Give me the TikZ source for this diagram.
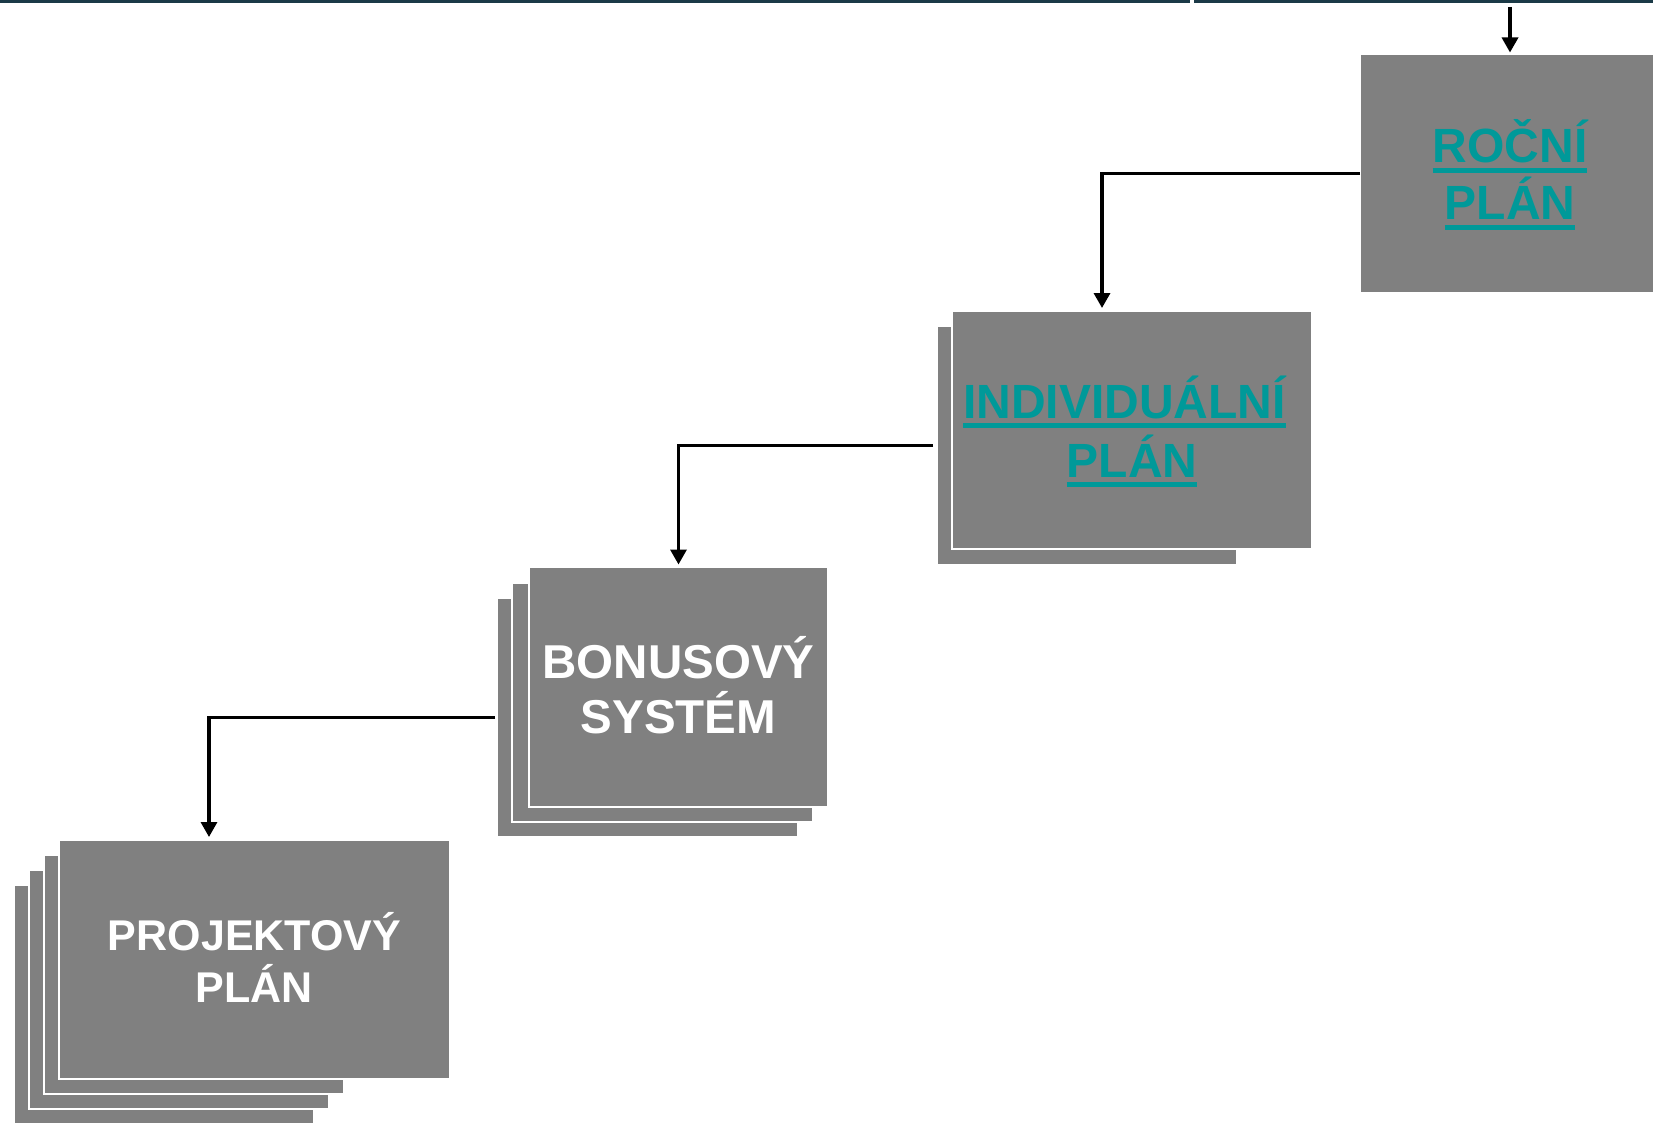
\documentclass[tikz,border=0pt]{standalone}
\usepackage{fontspec}
\setmainfont{Liberation Sans}
\usetikzlibrary{arrows.meta}
\definecolor{boxgray}{HTML}{808080}
\definecolor{tealtxt}{HTML}{009999}
\definecolor{topbar}{HTML}{1B3A47}
\newsavebox\ulbox
\newcommand\ulw[1]{\sbox\ulbox{#1}\rlap{\rule[-10pt]{\wd\ulbox}{4.6pt}}\usebox\ulbox}
\tikzset{
  pbox/.style={rectangle, fill=boxgray, draw=white, line width=1.4pt, inner sep=0pt, outer sep=0pt, anchor=north west},
  conn/.style={line width=3.3pt, -{Triangle[width=16pt,length=15pt]}},
  tline/.style={anchor=base, inner sep=0pt, font=\bfseries},
  tealline/.style={tline, text=tealtxt},
  whiteline/.style={tline, text=white}
}
\begin{document}
\begin{tikzpicture}[x=1pt,y=-1pt]
\useasboundingbox (0,0) rectangle (1653,1123);
\clip (0,0) rectangle (1653,1123);
% top bar
\fill[topbar] (0,0) rectangle (1190,2.6);
\fill[topbar] (1194,0) rectangle (1653,2.6);

% ROCNI PLAN
\node[pbox, minimum width=310pt, minimum height=239pt] (roc) at (1360,54) {};
\node[tealline, font=\bfseries\fontsize{48}{57}\selectfont] (roc1) at (1510,163) {\ulw{ROČNÍ}};
\node[tealline, font=\bfseries\fontsize{48}{57}\selectfont] (roc2) at (1510,220) {\ulw{PLÁN}};

% INDIVIDUALNI PLAN
\node[pbox, minimum width=300pt, minimum height=239pt] (indb) at (937,326) {};
\node[pbox, minimum width=360pt, minimum height=238pt] (ind) at (952,311) {};
\node[tealline, font=\bfseries\fontsize{48}{57}\selectfont] (ind1) at (1124.5,418) {\ulw{INDIVIDUÁLNÍ}};
\node[tealline, font=\bfseries\fontsize{48}{57}\selectfont] (ind2) at (1132,477) {\ulw{PLÁN}};

% BONUSOVY SYSTEM
\node[pbox, minimum width=301pt, minimum height=239pt] (bonc) at (497,598) {};
\node[pbox, minimum width=301pt, minimum height=239pt] (bonb) at (512,583) {};
\node[pbox, minimum width=299pt, minimum height=240pt] (bon) at (529,567) {};
\node[whiteline, font=\bfseries\fontsize{47.5}{56}\selectfont] (bon1) at (678.5,678) {BONUSOVÝ};
\node[whiteline, font=\bfseries\fontsize{47.5}{56}\selectfont] (bon2) at (678.5,733) {SYSTÉM};

% PROJEKTOVY PLAN
\node[pbox, minimum width=300pt, minimum height=240pt] (prjd) at (14,885) {};
\node[pbox, minimum width=300pt, minimum height=239pt] (prjc) at (29,870) {};
\node[pbox, minimum width=300pt, minimum height=239pt] (prjb) at (44,855) {};
\node[pbox, minimum width=391pt, minimum height=239pt] (prj) at (59,840) {};
\node[whiteline, font=\bfseries\fontsize{43}{52}\selectfont] (prj1) at (254.5,950) {PROJEKTOVÝ};
\node[whiteline, font=\bfseries\fontsize{43}{52}\selectfont] (prj2) at (254.5,1002) {PLÁN};

% connectors
\coordinate (topstart) at (1510,7);
\draw[conn, shorten >=1.5pt] (topstart) -- (topstart |- roc.north);
\draw[conn, shorten >=3pt] (roc.west) -| ([xshift=-30pt]ind.north);
\draw[conn, shorten <=4pt, shorten >=2.5pt] (indb.west) -| (bon.north);
\draw[conn, shorten <=2pt, shorten >=3pt] (bonc.west) -| ([xshift=-45.5pt]prj.north);
\end{tikzpicture}
\end{document}
